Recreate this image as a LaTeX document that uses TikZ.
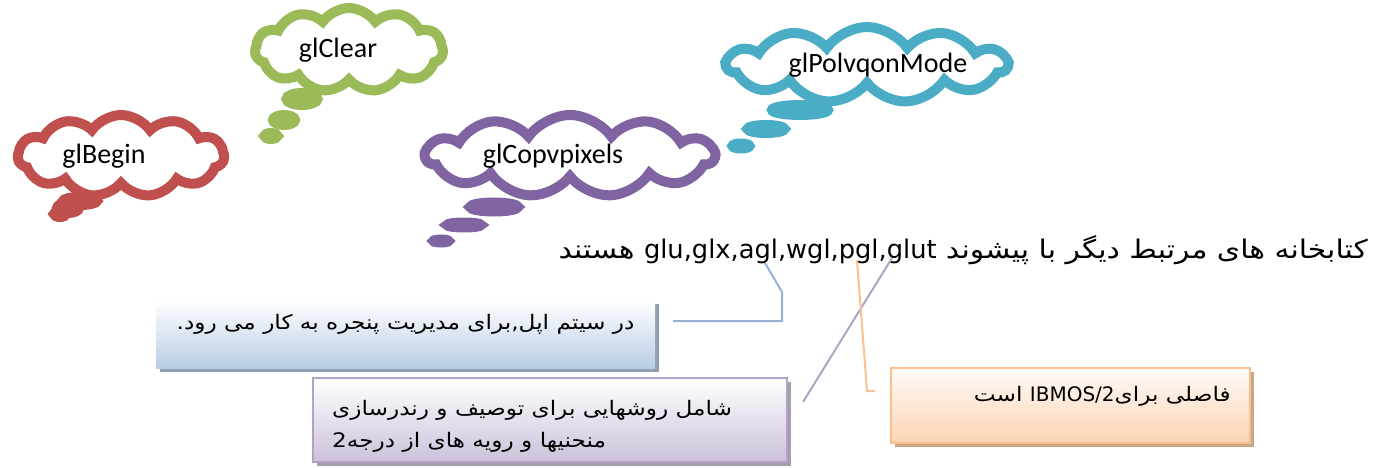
\documentclass[tikz,border=0pt]{standalone}
\usepackage{fontspec}
\setmainfont{Carlito}
\newfontfamily\arabicfont[Script=Arabic, FakeStretch=1.16]{DejaVu Sans}
\newfontfamily\latinfont{DejaVu Sans}
\TeXXeTstate=1
\usepackage{tikz}
\usetikzlibrary{shapes.symbols, shadows, positioning}
\definecolor{cloudred}{HTML}{C0504D}
\definecolor{cloudgreen}{HTML}{9BBB59}
\definecolor{cloudpurple}{HTML}{8064A2}
\definecolor{cloudblue}{HTML}{4BACC6}
\definecolor{linkblue}{HTML}{95B3D7}
\definecolor{linkpurple}{HTML}{B3A2C7}
\definecolor{linkorange}{HTML}{FAC090}
\definecolor{boxblue}{HTML}{B9CDE5}
\definecolor{boxpurple}{HTML}{CCC1DA}
\definecolor{boxorange}{HTML}{FBD4B4}
\definecolor{shadowblue}{HTML}{929FB2}
\definecolor{shadowpurple}{HTML}{A59FAD}
\definecolor{shadoworange}{HTML}{C9A68A}
\tikzset{
  thought/.style={cloud, cloud puffs=11, cloud puff arc=110,
    cloud ignores aspect, line width=10pt,
    fill=white, inner sep=0pt, font=\fontsize{28}{32}\selectfont},
  redcloud/.style={thought, draw=cloudred},
  greencloud/.style={thought, draw=cloudgreen},
  purplecloud/.style={thought, draw=cloudpurple},
  bluecloud/.style={thought, draw=cloudblue},
  bubble/.style={line width=10pt, fill=white},
  notebox/.style={rectangle, inner sep=0pt},
  notetext/.style={inner sep=0pt, font=\arabicfont\fontsize{20}{32}\selectfont},
  bluebox/.style={notebox, top color=white, bottom color=boxblue,
    drop shadow={shadow xshift=4pt, shadow yshift=-4pt, fill=shadowblue, opacity=1}},
  purplebox/.style={notebox, draw=linkpurple, line width=2pt,
    top color=white, bottom color=boxpurple,
    drop shadow={shadow xshift=4pt, shadow yshift=-4pt, fill=shadowpurple, opacity=1}},
  orangebox/.style={notebox, draw=linkorange, line width=2pt,
    top color=white!90!boxorange, bottom color=boxorange,
    drop shadow={shadow xshift=4pt, shadow yshift=-4pt, fill=shadoworange, opacity=1}},
  link/.style={line width=2pt}
}
\begin{document}
\begin{tikzpicture}[x=1pt, y=-1pt]
  \useasboundingbox (0,0) rectangle (1387,468);
  \node[redcloud, minimum width=206pt, minimum height=82pt] (glbegin) at (121,156)
    {glBegin\hspace*{34pt}};
  \node[greencloud, minimum width=188pt, minimum height=84pt] (glclear) at (349,50)
    {glClear\hspace*{22pt}};
  \node[purplecloud, minimum width=288pt, minimum height=82pt] (glcopy) at (570,156)
    {glCopvpixels\hspace*{34pt}};
  \node[bluecloud, minimum width=280pt, minimum height=76pt] (glpoly) at (867,65)
    {\hspace*{22pt}glPolvqonMode};
  \foreach \x/\y/\rx/\ry in {80/201/17/4, 68/208/11/5, 60/214/6/3}
    \draw[bubble, cloudred] (\x,\y) ellipse [x radius=\rx, y radius=\ry];
  \foreach \x/\y/\rx/\ry in {302/99/15.5/6, 284/120/11/5, 271/136/6.5/3}
    \draw[bubble, cloudgreen] (\x,\y) ellipse [x radius=\rx, y radius=\ry];
  \foreach \x/\y/\rx/\ry in {494/207/24/4.5, 464/225/17/2.5, 441/241/7.5/1.5}
    \draw[bubble, cloudpurple] (\x,\y) ellipse [x radius=\rx, y radius=\ry];
  \foreach \x/\y/\rx/\ry in {800/110/28/5, 766/129/18.5/4, 741/146/8.5/2.5}
    \draw[bubble, cloudblue] (\x,\y) ellipse [x radius=\rx, y radius=\ry];
  \node[anchor=east, inner sep=0pt, font=\arabicfont\fontsize{25.7}{30}\selectfont]
    (libs) at (1368,250)
    {\beginR کتابخانه های مرتبط دیگر با پیشوند \beginL{\latinfont glu,glx,agl,wgl,pgl,glut}\endL{} هستند\endR};
  \coordinate (agl) at (765,263);
  \coordinate (pgl) at (857,260);
  \coordinate (glut) at (892,258);
  \node[bluebox, minimum width=499pt, minimum height=68pt] (applebox) at (405.5,334) {};
  \node[notetext] (appletext) at ([yshift=10pt]applebox.center)
    {\beginR در سیتم اپل,برای مدیریت پنجره به کار می رود.\endR};
  \node[purplebox, minimum width=474pt, minimum height=84pt] (curvebox) at (550,420) {};
  \node[notetext, anchor=west, align=left] (curvetext)
    at ([xshift=20pt, yshift=-6pt]curvebox.west)
    {\beginR شامل روشهایی برای توصیف و رندرسازی\endR\\
     \beginR منحنیها و رویه های از درجه2\endR};
  \node[orangebox, minimum width=359pt, minimum height=75pt] (ibmbox) at (1070.5,405.5) {};
  \node[notetext, anchor=east] (ibmtext) at ([xshift=-20pt, yshift=9.5pt]ibmbox.east)
    {\beginR فاصلی برای\beginL{\latinfont IBMOS/2}\endL\ است\endR};
  \draw[link, linkblue] ([xshift=18pt, yshift=13pt]applebox.east) -| (782,292) -- (agl);
  \draw[link, linkpurple] ([xshift=15pt, yshift=18pt]curvebox.east) -- (glut);
  \draw[link, linkorange] ([xshift=-15pt, yshift=14.5pt]ibmbox.west) -- (867,391) -- (pgl);
\end{tikzpicture}
\end{document}
